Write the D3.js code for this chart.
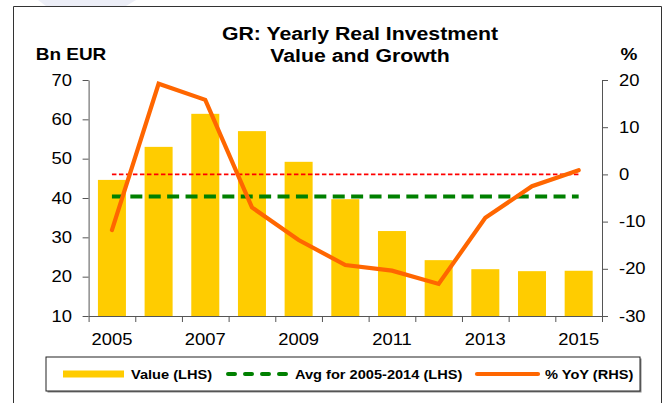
<!DOCTYPE html>
<html>
<head>
<meta charset="utf-8">
<script src="https://cdn.jsdelivr.net/npm/d3@7.9.0/dist/d3.min.js"></script>
<style>
  html, body { margin: 0; padding: 0; background: #fff; }
  svg { display: block; }
  text { font-family: "Liberation Sans", Arial, sans-serif; fill: #000; }
</style>
</head>
<body>
<div id="viz"></div>
<script>
// Chart values
const years = [2005, 2006, 2007, 2008, 2009, 2010, 2011, 2012, 2013, 2014, 2015];
const valueBn = [44.6, 53.0, 61.4, 57.0, 49.2, 39.7, 31.6, 24.2, 21.9, 21.4, 21.5];
const yoyPct = [-11.8, 19.2, 15.8, -7.0, -13.9, -19.2, -20.4, -23.2, -9.2, -2.5, 0.9];
const avgValue = 40.4; // average 2005-2014
const leftTicks = [10, 20, 30, 40, 50, 60, 70];
const rightTicks = [-30, -20, -10, 0, 10, 20];
const labelYears = [2005, 2007, 2009, 2011, 2013, 2015];
const legendLabels = ["Value (LHS)", "Avg for 2005-2014 (LHS)", "% YoY (RHS)"];

const width = 672;
const height = 403;
const stretch = 1.15; // text in the picture is a bit wide

const svg = d3.select("#viz")
  .append("svg")
  .attr("width", width)
  .attr("height", height);

// faint artifact at the top left
svg.append("polygon")
  .attr("points", "38,0 136,0 126,6 46,6")
  .attr("fill", "#eceef7");

// outer frame (bottom runs off the picture)
svg.append("path")
  .attr("d", "M13.5,410 V6.5 H661.5 V410")
  .attr("fill", "none")
  .attr("stroke", "#333")
  .attr("stroke-width", 1);

// helper for stretched text
function label(x, y, str, size, anchor, bold) {
  return svg.append("text")
    .attr("transform", `translate(${x},${y}) scale(${stretch},1)`)
    .attr("text-anchor", anchor)
    .attr("font-size", size + "px")
    .attr("font-weight", bold ? "bold" : "normal")
    .text(str);
}

// Titles
label(360, 39.5, "GR: Yearly Real Investment", 18.5, "middle", true);
label(360, 62, "Value and Growth", 18.5, "middle", true);
label(71, 60, "Bn EUR", 16.5, "middle", true);
label(629, 60, "%", 16.5, "middle", true);

// Scales
const x = d3.scaleBand()
  .domain(years)
  .range([88.6, 602])
  .paddingInner(0.4)
  .paddingOuter(0.2);

const xEdge = d3.scaleLinear()
  .domain([0, years.length])
  .range([88.6, 602]);

const yL = d3.scaleLinear().domain([10, 70]).range([316, 80]);
const yR = d3.scaleLinear().domain([-30, 20]).range([316, 80]);

const cx = d => x(d) + x.bandwidth() / 2;

// Bars
svg.append("g")
  .selectAll("rect")
  .data(years)
  .join("rect")
  .attr("x", d => x(d))
  .attr("y", (d, i) => yL(valueBn[i]))
  .attr("width", x.bandwidth())
  .attr("height", (d, i) => yL(10) - yL(valueBn[i]))
  .attr("fill", "#ffcc00");

// Red zero line (RHS)
svg.append("line")
  .attr("x1", cx(years[0]))
  .attr("x2", cx(years[years.length - 1]))
  .attr("y1", yR(0))
  .attr("y2", yR(0))
  .attr("stroke", "#ff0000")
  .attr("stroke-width", 1.6)
  .attr("stroke-dasharray", "4.5,2.5");

// Green average line (LHS)
svg.append("line")
  .attr("x1", cx(years[0]))
  .attr("x2", cx(years[years.length - 1]))
  .attr("y1", yL(avgValue))
  .attr("y2", yL(avgValue))
  .attr("stroke", "#008000")
  .attr("stroke-width", 4)
  .attr("stroke-dasharray", "12,6.4");

// YoY line (RHS)
const line = d3.line()
  .x((d, i) => cx(years[i]))
  .y(d => yR(d));

svg.append("path")
  .datum(yoyPct)
  .attr("d", line)
  .attr("fill", "none")
  .attr("stroke", "#ff6600")
  .attr("stroke-width", 4.2)
  .attr("stroke-linecap", "round")
  .attr("stroke-linejoin", "miter");

// Axes
const axisColor = "#555";
const plain = d => String(d); // hyphen minus like the original

function styleAxis(g) {
  g.select(".domain").attr("stroke", axisColor);
  g.selectAll(".tick line").attr("stroke", axisColor);
  g.selectAll("text")
    .attr("font-family", "Liberation Sans, Arial, sans-serif")
    .attr("font-size", "16px")
    .attr("fill", "#000");
}

const gL = svg.append("g")
  .attr("transform", "translate(88.6,0)")
  .call(d3.axisLeft(yL).tickValues(leftTicks).tickFormat(plain)
    .tickSize(6).tickSizeOuter(0).tickPadding(8.4));
styleAxis(gL);
gL.selectAll("text").attr("transform", `scale(${stretch},1)`);

const gR = svg.append("g")
  .attr("transform", "translate(602,0)")
  .call(d3.axisRight(yR).tickValues(rightTicks).tickFormat(plain)
    .tickSize(6).tickSizeOuter(0).tickPadding(8.8));
styleAxis(gR);
gR.selectAll("text").attr("transform", `scale(${stretch},1)`);

// x axis: tick marks at category edges
const gX = svg.append("g")
  .attr("transform", "translate(0,316)")
  .call(d3.axisBottom(xEdge).ticks(years.length).tickSize(6).tickSizeOuter(0).tickFormat(""));
styleAxis(gX);

// x axis labels centred on categories
const gXL = svg.append("g")
  .attr("transform", "translate(0,316)")
  .call(d3.axisBottom(x).tickValues(labelYears).tickFormat(plain)
    .tickSize(0).tickPadding(17.6));
styleAxis(gXL);
gXL.select(".domain").remove();
gXL.selectAll("text").attr("transform", `scale(${stretch},1)`);

// Legend
const leg = svg.append("g");
leg.append("rect")
  .attr("x", 47.5).attr("y", 358.5)
  .attr("width", 594).attr("height", 34)
  .attr("fill", "#888");
leg.append("rect")
  .attr("x", 46).attr("y", 357)
  .attr("width", 594).attr("height", 34)
  .attr("fill", "#fff")
  .attr("stroke", "#222")
  .attr("stroke-width", 1);

leg.append("line")
  .attr("x1", 63).attr("x2", 124).attr("y1", 374).attr("y2", 374)
  .attr("stroke", "#ffcc00").attr("stroke-width", 7);
leg.append("line")
  .attr("x1", 228).attr("x2", 289).attr("y1", 374).attr("y2", 374)
  .attr("stroke", "#008000").attr("stroke-width", 4)
  .attr("stroke-linecap", "round")
  .attr("stroke-dasharray", "7,10");
leg.append("line")
  .attr("x1", 477).attr("x2", 538).attr("y1", 374).attr("y2", 374)
  .attr("stroke", "#ff6600").attr("stroke-width", 4.2)
  .attr("stroke-linecap", "round");

const legX = [131, 295, 545];
legendLabels.forEach((t, i) => {
  label(legX[i], 379, t, 12.7, "start", true);
});
</script>
</body>
</html>
